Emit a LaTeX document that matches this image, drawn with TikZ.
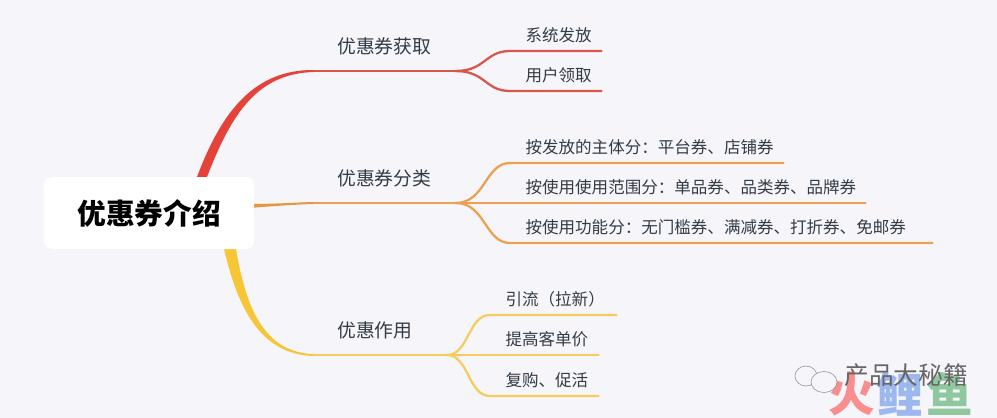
\documentclass[tikz,border=0pt]{standalone}
\usepackage{fontspec}
\setmainfont{Noto Sans CJK SC}
\usetikzlibrary{calc}
\definecolor{paper}{HTML}{F5F5FA}
\definecolor{redthick}{HTML}{E5423A}
\definecolor{redthin}{HTML}{D8564C}
\definecolor{orangethick}{HTML}{E8963C}
\definecolor{orangethin}{HTML}{EBA052}
\definecolor{yellowthick}{HTML}{F7C637}
\definecolor{yellowthin}{HTML}{F7CC5E}
\definecolor{txt}{HTML}{333B45}
\definecolor{markpink}{HTML}{F98E8E}
\definecolor{markblue}{HTML}{9DB8EE}
\definecolor{markgreen}{HTML}{8FC79F}
\tikzset{
  topicbox/.style={inner sep=0pt, anchor=south west, minimum height=36pt, text width=106.5pt,
    font=\fontsize{14.1pt}{17pt}\selectfont, text=txt, execute at begin node=\hspace*{18pt}},
  leafbox/.style={inner sep=0pt, anchor=south west, minimum height=23pt,
    font=\fontsize{12.4pt}{15pt}\selectfont, text=txt, execute at begin node=\hspace*{11.5pt}},
  wire/.style={line width=1.7pt, line cap=round},
  mark text/.style={inner sep=0pt, font=\bfseries\fontsize{35pt}{38pt}\selectfont}
}
\begin{document}
\begin{tikzpicture}[x=0.75pt,y=-0.75pt]
  \fill [paper] (0,0) rectangle (997,418);
  \useasboundingbox (0,0) rectangle (997,418);
  % watermark
  \node [mark text, text=markpink] (markfire) at (852,394) {火};
  \node [mark text, text=markblue] (markcarp) at (900,394) {鲤};
  \node [mark text, text=markgreen] (markfish) at (950,394) {鱼};
  \draw [gray, line width=0.35pt] (806,376) ellipse (11 and 10);
  \draw [gray, line width=0.35pt, fill=paper] (824,382) ellipse (13 and 10.5);
  \node [inner sep=0pt, text=gray!80!black, font=\fontsize{18.5pt}{21pt}\selectfont] (markname) at (906,375) {产品大秘籍};
  % topics
  \node [topicbox] (coupget) at (313,71) {优惠券获取};
  \node [topicbox] (couptype) at (313,203) {优惠券分类};
  \node [topicbox, text width=100pt] (coupuse) at (313,355) {优惠作用};
  % leaves
  \node [leafbox, text width=68.25pt] (getsys) at (510,51) {系统发放};
  \node [leafbox, text width=68.25pt] (getuser) at (510,91) {用户领取};
  \node [leafbox, text width=204.75pt] (typeissuer) at (510,163) {按发放的主体分：平台券、店铺券};
  \node [leafbox, text width=266.25pt] (typerange) at (510,203) {按使用使用范围分：单品券、品类券、品牌券};
  \node [leafbox, text width=316.5pt] (typefunc) at (510,243) {按使用功能分：无门槛券、满减券、打折券、免邮券};
  \node [leafbox, text width=94.5pt] (usenew) at (490,315) {引流（拉新）};
  \node [leafbox, text width=81pt] (useprice) at (490,355) {提高客单价};
  \node [leafbox, text width=81pt] (userepeat) at (490,396) {复购、促活};
  % thin lines
  \draw [wire, redthin] (coupget.south west) -- (coupget.south east);
  \draw [wire, redthin] (coupget.south east) .. controls +(30,0) and +(-25,0) .. (getsys.south west) -- (getsys.south east);
  \draw [wire, redthin] (coupget.south east) .. controls +(30,0) and +(-25,0) .. (getuser.south west) -- (getuser.south east);
  \draw [wire, orangethin] (couptype.south west) -- (couptype.south east);
  \draw [wire, orangethin] (couptype.south east) .. controls +(30,0) and +(-25,0) .. (typeissuer.south west) -- (typeissuer.south east);
  \draw [wire, orangethin] (couptype.south east) -- (typerange.south west) -- (typerange.south east);
  \draw [wire, orangethin] (couptype.south east) .. controls +(30,0) and +(-25,0) .. (typefunc.south west) -- (typefunc.south east);
  \draw [wire, yellowthin] (coupuse.south west) -- (coupuse.south east);
  \draw [wire, yellowthin] (coupuse.south east) .. controls +(22,0) and +(-22,0) .. (usenew.south west) -- (usenew.south east);
  \draw [wire, yellowthin] (coupuse.south east) -- (useprice.south west) -- (useprice.south east);
  \draw [wire, yellowthin] (coupuse.south east) .. controls +(22,0) and +(-22,0) .. (userepeat.south west) -- (userepeat.south east);
  % root and its tapered branches
  \coordinate (rootc) at (149,213);
  \fill [redthick] ($(rootc)+(48,-36)$) .. controls (222,110) and (255,70) .. ($(coupget.south west)+(0,-1)$)
    -- ($(coupget.south west)+(0,1)$) .. controls (258,74) and (232,112) .. ($(rootc)+(58,-36)$) -- cycle;
  \fill [orangethick] ($(rootc)+(100,-9)$) .. controls (275,204) and (295,202.5) .. ($(couptype.south west)+(0,-1)$)
    -- ($(couptype.south west)+(0,1)$) .. controls (295,204.5) and (275,206) .. ($(rootc)+(100,-5)$) -- cycle;
  \fill [yellowthick] ($(rootc)+(75,36)$) .. controls (238,308) and (260,354) .. ($(coupuse.south west)+(0,1)$)
    -- ($(coupuse.south west)+(0,-1)$) .. controls (264,352) and (246,308) .. ($(rootc)+(87,36)$) -- cycle;
  \node [fill=white, rounded corners=6pt, minimum width=157.5pt, minimum height=54pt, inner sep=0pt,
    font=\bfseries\fontsize{21.5pt}{25pt}\selectfont, text=black] (root) at (rootc) {优惠券介绍};
\end{tikzpicture}
\end{document}
